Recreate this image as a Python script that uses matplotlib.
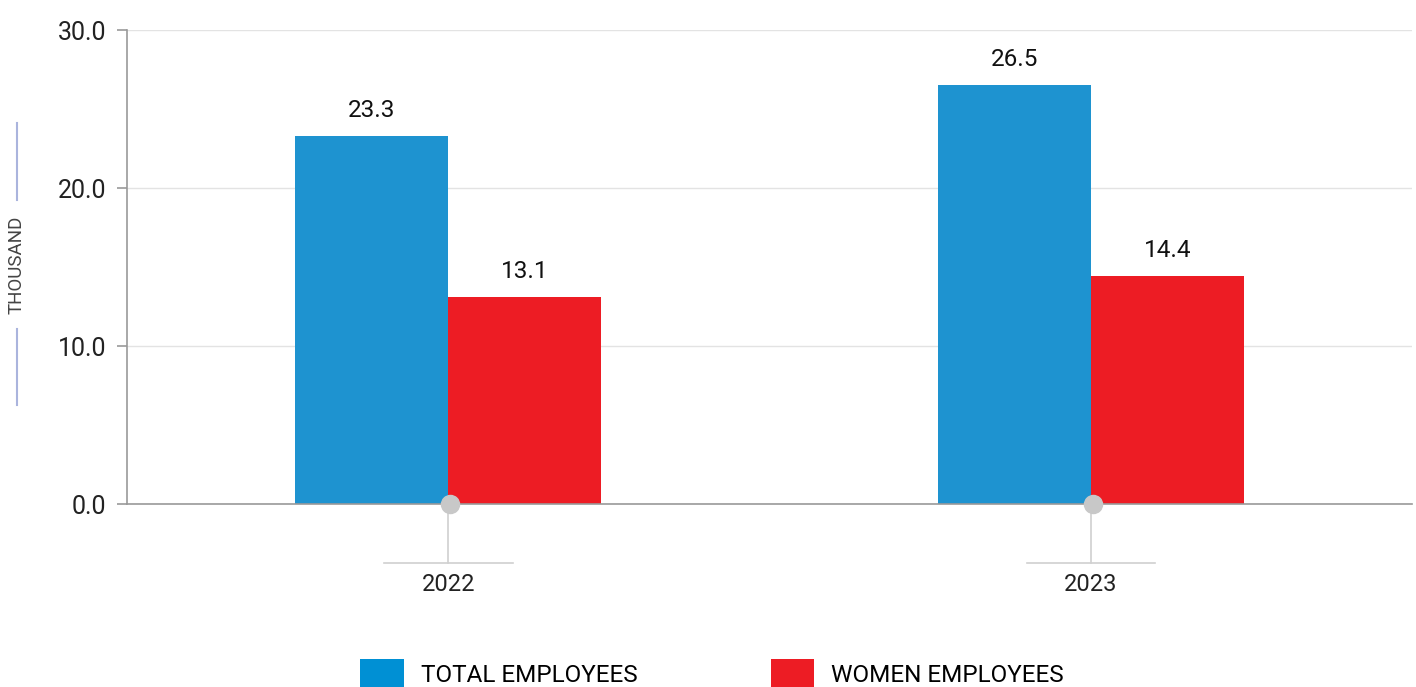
import matplotlib.pyplot as plt
from matplotlib.patches import Patch
from matplotlib.lines import Line2D
import numpy as np

plt.rcParams['font.family'] = ['Roboto', 'DejaVu Sans']

years = ['2022', '2023']
total_employees = [23.3, 26.5]
women_employees = [13.1, 14.4]

blue = '#1E93D0'
red = '#ED1C24'

fig = plt.figure(figsize=(14.16, 6.87), dpi=100)
ax = fig.add_axes([127/1416, 1-504/687, (1412-127)/1416, (504-30)/687])

x = np.arange(len(years))
w = 0.238
ax.bar(x - w/2, total_employees, w, color=blue, zorder=2)
ax.bar(x + w/2, women_employees, w, color=red, zorder=2)

for xi, v in zip(x - w/2, total_employees):
    ax.text(xi, v + 0.9, f'{v:.1f}', ha='center', va='bottom', fontsize=17.5, color='#111111')
for xi, v in zip(x + w/2, women_employees):
    ax.text(xi, v + 0.9, f'{v:.1f}', ha='center', va='bottom', fontsize=17.5, color='#111111')

ax.set_xlim(-0.5, 1.5)
ax.set_ylim(0, 30)
ax.set_yticks([0, 10, 20, 30])
ax.set_yticklabels([f'{t:.1f}' for t in [0, 10, 20, 30]], fontsize=18, color='#222222')
ax.tick_params(axis='y', length=7, color='#999999', width=1.2, pad=8)
ax.set_xticks([])
ax.grid(axis='y', color='#e3e3e3', lw=1, zorder=0)
for s in ['top', 'right']:
    ax.spines[s].set_visible(False)
ax.spines['left'].set_color('#999999')
ax.spines['bottom'].set_color('#999999')
ax.spines['left'].set_linewidth(1.2)
ax.spines['bottom'].set_linewidth(1.2)

# category markers below the axis
for xi, yr in zip(x, years):
    ax.plot([xi + 0.003], [0], marker='o', ms=13, color='#c8c8c8', zorder=5, clip_on=False)
    ax.add_line(Line2D([xi, xi], [0, -3.75], color='#d0d0d0', lw=1.2, clip_on=False))
    ax.add_line(Line2D([xi - 0.1, xi + 0.1], [-3.75, -3.75], color='#d0d0d0', lw=1.2, clip_on=False))
    ax.text(xi, -5.1, yr, ha='center', va='center', fontsize=17, color='#222222')

# y axis title
fig.text(17/1416, 1-265/687, 'THOUSAND', rotation=90, ha='center', va='center', fontsize=13.5, color='#444444')
fig.add_artist(Line2D([17/1416, 17/1416], [1-123/687, 1-200/687], color='#aab4dd', lw=1.5))
fig.add_artist(Line2D([17/1416, 17/1416], [1-329/687, 1-405/687], color='#aab4dd', lw=1.5))

handles = [Patch(facecolor='#0090D4', label='TOTAL EMPLOYEES'),
           Patch(facecolor=red, label='WOMEN EMPLOYEES')]
fig.legend(handles=handles, loc='center', bbox_to_anchor=(712/1416, 1-674/687), ncol=2,
           frameon=False, fontsize=17.5, handlelength=1.78, handleheight=1.5,
           handletextpad=0.7, columnspacing=5.5)

fig.savefig('out.png', dpi=100)
